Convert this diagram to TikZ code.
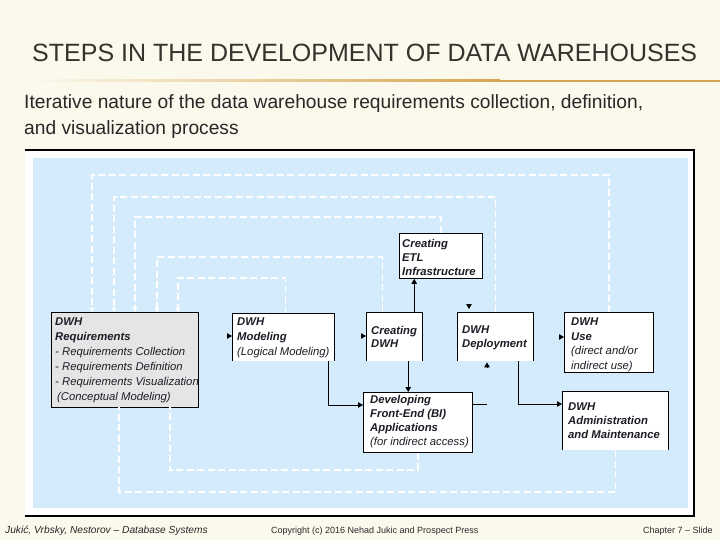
\documentclass[tikz,border=0pt]{standalone}
\usepackage{fontspec}
\setmainfont{Liberation Sans}
\usetikzlibrary{arrows.meta}
\definecolor{slidebg}{RGB}{251,248,236}
\definecolor{panelblue}{RGB}{211,235,250}
\definecolor{reqgray}{RGB}{229,229,229}
\definecolor{titlec}{RGB}{55,50,45}
\definecolor{subc}{RGB}{40,40,40}
\definecolor{txtc}{RGB}{28,28,38}
\definecolor{gold}{RGB}{214,165,80}
\tikzset{
  boxfill/.style={fill=white, draw=none, inner sep=0pt, anchor=north west},
  boxline/.style={draw=black, line width=0.9pt},
  btxt/.style={anchor=north west, inner sep=0pt, align=left, text=txtc,
    font=\fontsize{11.3}{#1}\selectfont},
  dsh/.style={draw=white, line width=1.4pt, dash pattern=on 7pt off 3.5pt},
  dtip/.style={-{Triangle[width=5pt,length=4.5pt]}},
  sol/.style={draw=black, line width=0.9pt},
  stip/.style={-{Triangle[width=5.5pt,length=5pt]}},
}
\newcommand{\bi}[1]{\textbf{\textit{#1}}}
\begin{document}
\begin{tikzpicture}[x=1pt,y=-1pt]
\useasboundingbox (0,0) rectangle (720,540);
\fill[slidebg] (0,0) rectangle (720,540);

% title
\node[anchor=west, inner sep=0pt, text=titlec, font=\fontsize{25}{28}\selectfont] (title) at (32,53) {STEPS IN THE DEVELOPMENT OF DATA WAREHOUSES};
\shade[left color=slidebg, right color=gold] (30,80) rectangle (500,82);
\fill[gold] (500,80) rectangle (720,82);

% subtitle
\node[anchor=north west, inner sep=0pt, align=left, text=subc, font=\fontsize{19.2}{26}\selectfont] (sub) at (24,94)
  {Iterative nature of the data warehouse requirements collection, definition,\\and visualization process};

% frame
\fill[white] (25,150) rectangle (694,516);
\draw[black, line width=1.3pt] (25,150) -- (694,150) -- (694,516) -- (25,516);
\fill[panelblue] (33,158) rectangle (688,508);

% boxes
\node[boxfill, fill=reqgray, draw=black, line width=0.9pt, minimum width=147pt, minimum height=95pt] (req) at (51,312) {};
\node[boxfill, minimum width=102pt, minimum height=48pt] (mod) at (232,313) {};
\node[boxfill, minimum width=56pt, minimum height=49pt] (cdwh) at (366,312) {};
\node[boxfill, boxline, minimum width=83pt, minimum height=45pt] (etl) at (399,233) {};
\node[boxfill, minimum width=76pt, minimum height=49pt] (dep) at (457,312) {};
\node[boxfill, boxline, minimum width=89pt, minimum height=60pt] (use) at (564,312) {};
\node[boxfill, boxline, minimum width=109pt, minimum height=60pt] (fe) at (363,392) {};
\node[boxfill, minimum width=106pt, minimum height=59pt] (adm) at (562,391) {};
% open-bottom boxes
\foreach \b in {mod,cdwh,dep,adm}{
  \draw[boxline] (\b.south west) -- (\b.north west) -- (\b.north east) -- (\b.south east);
}

% texts
\node[btxt=15] (reqt) at (55,318) {\bi{DWH}\\\bi{Requirements}\\\textit{- Requirements Collection}\\\textit{- Requirements Definition}\\\textit{- Requirements Visualization}\\\textit{\,(Conceptual Modeling)}};
\node[btxt=15] (modt) at (237,318) {\bi{DWH}\\\bi{Modeling}\\\textit{(Logical Modeling)}};
\node[btxt=13.5] (cdwht) at (371,326) {\bi{Creating}\\\bi{DWH}};
\node[btxt=14] (etlt) at (402,239) {\bi{Creating}\\\bi{ETL}\\\bi{Infrastructure}};
\node[btxt=13.5] (dept) at (462,326) {\bi{DWH}\\\bi{Deployment}};
\node[btxt=14.5] (uset) at (571,318) {\bi{DWH}\\\bi{Use}\\\textit{(direct and/or}\\\textit{indirect use)}};
\node[btxt=14] (fet) at (370,395) {\bi{Developing}\\\bi{Front-End (BI)}\\\bi{Applications}\\\textit{(for indirect access)}};
\node[btxt=14] (admt) at (568,403) {\bi{DWH}\\\bi{Administration}\\\bi{and Maintenance}};

% entry points on requirements box
\coordinate (r1) at (92,312);
\coordinate (r2) at (114,312);
\coordinate (r3) at (135,312);
\coordinate (r4) at (157,312);
\coordinate (r5) at (178,312);
\coordinate (r6) at (170,407);
\coordinate (r7) at (119,407);

% dashed feedback loops
\draw[dsh,dtip] (use.north) -- (use.north |- 0,175) -| (r1);
\draw[dsh,dtip] (dep.north) -- (dep.north |- 0,197) -| (r2);
\draw[dsh,dtip] (etl.north) -- (etl.north |- 0,217) -| (r3);
\draw[dsh,dtip] ([shift={(-12,0)}]cdwh.north) -- ([shift={(-12,0)}]cdwh.north |- 0,257) -| (r4);
\draw[dsh,dtip] ([shift={(2,0)}]mod.north) -- ([shift={(2,0)}]mod.north |- 0,278) -| (r5);
\draw[dsh] (fe.south) -- (fe.south |- 0,470) -| (r6);
\draw[dsh] (adm.south) -- (adm.south |- 0,492) -| (r7);

% solid connectors
\draw[sol,stip] ([shift={(20,0)}]cdwh.north) -- ([shift={(20,0)}]cdwh.north |- etl.south);
\draw[sol,stip] ([shift={(14,0)}]cdwh.south) -- ([shift={(14,0)}]cdwh.south |- fe.north);
\draw[sol,stip] ([shift={(-6,0)}]mod.south east) |- ([shift={(0,13)}]fe.north west);
\draw[sol,stip] ([shift={(-15,0)}]dep.south east) |- ([shift={(0,13)}]adm.north west);
\coordinate (festub) at (487,404);
\draw[sol] (fe.east |- festub) -- (festub);

% lone arrowheads
\draw[sol,stip] ([shift={(-4,23)}]mod.north west) -- ([shift={(0,23)}]mod.north west);
\draw[sol,stip] ([shift={(-4,24)}]cdwh.north west) -- ([shift={(0,24)}]cdwh.north west);
\draw[sol,stip] ([shift={(-4,25)}]use.north west) -- ([shift={(0,25)}]use.north west);
\draw[sol,stip] ([shift={(12,-7)}]dep.north west) -- ([shift={(12,-3)}]dep.north west);
\draw[sol,stip] ([shift={(30,7)}]dep.south west) -- ([shift={(30,1)}]dep.south west);

% footer
\node[anchor=west, inner sep=0pt, text=subc, font=\fontsize{10.2}{11}\selectfont\itshape] (f1) at (5,531) {Jukić, Vrbsky, Nestorov – Database Systems};
\node[anchor=west, inner sep=0pt, text=subc, font=\fontsize{9}{10}\selectfont] (f2) at (271,531) {Copyright (c) 2016 Nehad Jukic and Prospect Press};
\node[anchor=west, inner sep=0pt, text=subc, font=\fontsize{9}{10}\selectfont] (f3) at (643,531) {Chapter 7 – Slide};
\end{tikzpicture}
\end{document}
